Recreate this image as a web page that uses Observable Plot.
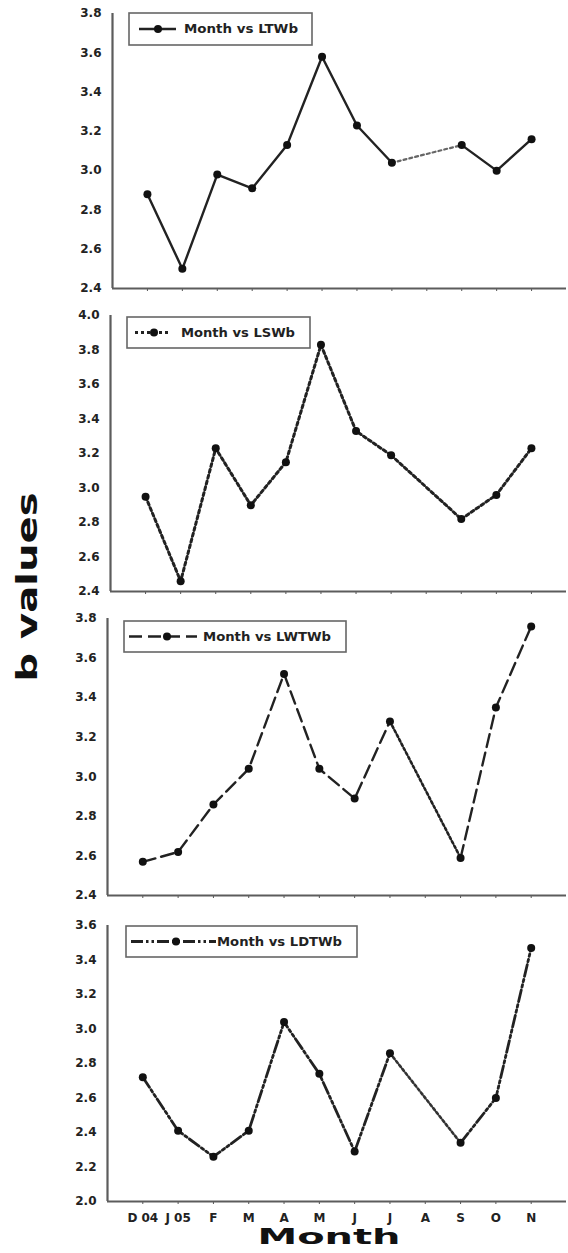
<!DOCTYPE html>
<html><head><meta charset="utf-8">
<script src="https://cdn.jsdelivr.net/npm/d3@7"></script>
<script src="https://cdn.jsdelivr.net/npm/@observablehq/plot@0.6"></script>
<style>
body{margin:0;background:#fff;}
#wrap{position:relative;width:568px;height:1253px;overflow:hidden;background:#fff;}
#wrap > svg{display:block;}
.ov{position:absolute;left:0;top:0;pointer-events:none;}
</style></head><body><div id="wrap"></div>
<script>
// ---- data ----
const months = ["D 04","J 05","F","M","A","M","J","J","A","S","O","N"];
const ltwb  = [2.88, 2.50, 2.98, 2.91, 3.13, 3.58, 3.23, 3.04, null, 3.13, 3.00, 3.16];
const lswb  = [2.95, 2.46, 3.23, 2.90, 3.15, 3.83, 3.33, 3.19, null, 2.82, 2.96, 3.23];
const lwtwb = [2.57, 2.62, 2.86, 3.04, 3.52, 3.04, 2.89, 3.28, null, 2.59, 3.35, 3.76];
const ldtwb = [2.72, 2.41, 2.26, 2.41, 3.04, 2.74, 2.29, 2.86, null, 2.34, 2.60, 3.47];
const seriesLabels = ["Month vs LTWb", "Month vs LSWb", "Month vs LWTWb", "Month vs LDTWb"];
const yDomains = [[2.4, 3.8], [2.4, 4.0], [2.4, 3.8], [2.0, 3.6]];
const yLabel = "b values";
const xLabel = "Month";

// ---- layout / style ----
const panels = [
  {values: ltwb,  height: 302, mt: 13, mb: 14, ml: 112, dash: null, width: 2.4,
   gapDash: "3,3", gapColor: "#666", gapWidth: 2.2,
   box: [129, 13, 312, 45], sample: [139, 176], dot: 158, text: [184, 114]},
  {values: lswb,  height: 303, mt: 13, mb: 14, ml: 110, dash: "3,3", width: 3,
   gapDash: "3,3", gapColor: "#222", gapWidth: 3,
   box: [127, 317, 310, 348], sample: [135, 170], dot: 154, text: [181, 114]},
  {values: lwtwb, height: 305, mt: 13, mb: 15, ml: 107, dash: "13,6", width: 2.4,
   gapDash: "2.5,2.5", gapColor: "#222", gapWidth: 2.6,
   box: [124, 621, 346, 652], sample: [129, 197], dot: 167, text: [203, 128]},
  {values: ldtwb, height: 343, mt: 15, mb: 52, ml: 107, dash: "12,3,2.5,3,2.5,3", width: 2.8,
   gapDash: "2.5,2.5", gapColor: "#333", gapWidth: 2.6,
   box: [126, 926, 357, 957], sample: [131, 216], dot: 176, text: [217, 125]}
];

const wrap = document.getElementById("wrap");
const xDomain = [-1, months.length];

panels.forEach((p, k) => {
  const isLast = k === panels.length - 1;
  const yDomain = yDomains[k];
  const data = months.map((m, i) => ({i, m, v: p.values[i]}));
  const bridges = [];
  p.values.forEach((v, i) => {
    if (v == null && i > 0 && i < p.values.length - 1) bridges.push([data[i - 1], data[i + 1]]);
  });
  const marks = [
    Plot.axisY({ticks: d3.ticks(yDomain[0], yDomain[1], 8), tickSize: 0, tickPadding: 11, tickFormat: ".1f", label: null}),
    Plot.axisX({ticks: d3.range(months.length), tickSize: 3, tickPadding: 9, stroke: "#555",
                tickFormat: isLast ? (i => months[i]) : (() => ""), label: null}),
    Plot.ruleX([xDomain[0]], {stroke: "#5c5c5c", strokeWidth: 2.2}),
    Plot.ruleY([yDomain[0]], {stroke: "#5c5c5c", strokeWidth: 2.2}),
    ...bridges.map(b => Plot.line(b, {x: "i", y: "v", stroke: p.gapColor, strokeWidth: p.gapWidth, strokeDasharray: p.gapDash})),
    Plot.line(data, {x: "i", y: "v", stroke: "#222", strokeWidth: p.width, strokeDasharray: p.dash ?? undefined}),
    Plot.dot(data.filter(d => d.v != null), {x: "i", y: "v", r: 4, fill: "#111", stroke: "none"})
  ];
  if (isLast) {
    marks.push(Plot.text([xLabel], {frameAnchor: "bottom", dy: 42, dx: -8, fontSize: 21, fontWeight: "bold", fill: "#111"}));
  }
  const svg = Plot.plot({
    width: 568, height: p.height,
    marginTop: p.mt, marginBottom: p.mb, marginLeft: p.ml, marginRight: 2,
    x: {type: "linear", domain: xDomain},
    y: {domain: yDomain},
    style: {fontFamily: "DejaVu Sans", fontWeight: "bold", fontSize: "12px", color: "#222", background: "transparent", overflow: "visible"},
    marks
  });
  if (isLast) {
    d3.select(svg).selectAll('g[aria-label="text"] text').attr("textLength", 143).attr("lengthAdjust", "spacingAndGlyphs");
  }
  wrap.appendChild(svg);

  // legend overlay
  const [bx0, by0, bx1, by1] = p.box;
  const cy = (by0 + by1) / 2;
  const lg = d3.create("svg").attr("class", "ov").attr("width", 568).attr("height", 1253);
  lg.append("rect").attr("x", bx0).attr("y", by0).attr("width", bx1 - bx0).attr("height", by1 - by0)
    .attr("fill", "#fff").attr("stroke", "#666").attr("stroke-width", 1.6);
  lg.append("line").attr("x1", p.sample[0]).attr("x2", p.sample[1]).attr("y1", cy).attr("y2", cy)
    .attr("stroke", "#222").attr("stroke-width", p.width).attr("stroke-dasharray", p.dash);
  lg.append("circle").attr("cx", p.dot).attr("cy", cy).attr("r", 4).attr("fill", "#111");
  lg.append("text").attr("x", p.text[0]).attr("y", cy).attr("dy", "0.36em")
    .attr("font-family", "DejaVu Sans").attr("font-weight", "bold").attr("font-size", 12).attr("fill", "#222")
    .attr("textLength", p.text[1]).attr("lengthAdjust", "spacingAndGlyphs").text(seriesLabels[k]);
  wrap.appendChild(lg.node());
});

// y label overlay
const yl = d3.create("svg").attr("class", "ov").attr("width", 568).attr("height", 1253);
yl.append("text").attr("transform", "translate(37,587) rotate(-90)").attr("text-anchor", "middle")
  .attr("font-family", "DejaVu Sans").attr("font-weight", "bold").attr("font-size", 29).attr("fill", "#111")
  .attr("textLength", 189).attr("lengthAdjust", "spacingAndGlyphs").text(yLabel);
wrap.appendChild(yl.node());
</script></body></html>
